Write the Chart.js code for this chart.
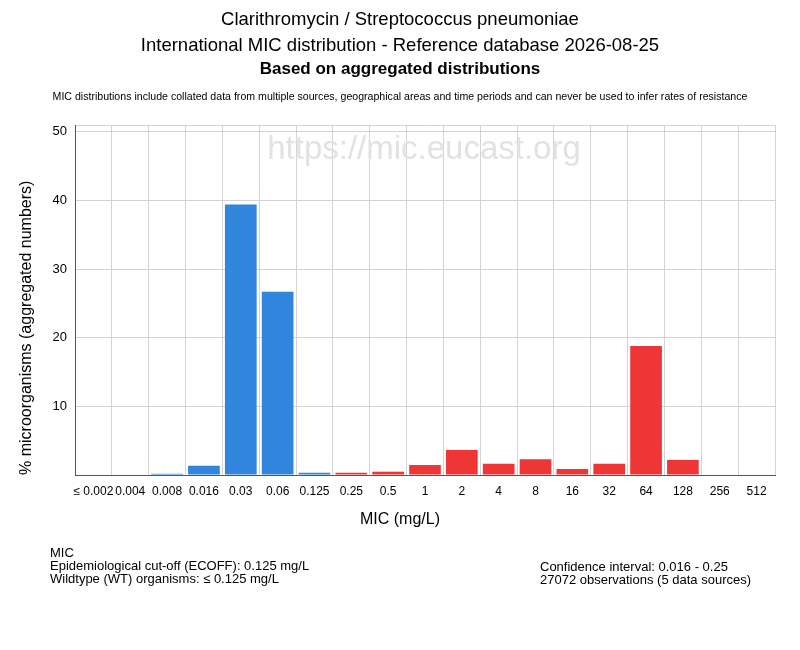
<!doctype html>
<html>
<head>
  <meta charset="utf-8">
  <title>Clarithromycin / Streptococcus pneumoniae - MIC distribution</title>
  <script src="https://cdn.jsdelivr.net/npm/chart.js"></script>
  <style>
    body { margin: 0; background: #fff; font-family: "Liberation Sans", Arial, sans-serif; color: #000; }
    #wrap { position: relative; width: 800px; height: 650px; }
    canvas { position: absolute; left: 0; top: 0; }
    .t { position: absolute; left: 0; width: 800px; text-align: center; white-space: nowrap; }
    .h { font-size: 18.5px; line-height: 20px; }
    .note { font-size: 10.6px; line-height: 12px; top: 90px; }
    .foot { position: absolute; font-size: 13px; line-height: 13px; white-space: nowrap; }
  </style>
</head>
<body>
<div id="wrap">
  <canvas id="chart" width="800" height="650"></canvas>
  <div class="t h" style="top:9px">Clarithromycin / Streptococcus pneumoniae</div>
  <div class="t h" style="top:35px">International MIC distribution - Reference database 2026-08-25</div>
  <div class="t h" style="top:59px;font-weight:bold;font-size:17px">Based on aggregated distributions</div>
  <div class="t note">MIC distributions include collated data from multiple sources, geographical areas and time periods and can never be used to infer rates of resistance</div>
  <div class="t" style="top:509px;font-size:16px;line-height:20px">MIC (mg/L)</div>
  <div class="foot" style="left:50px;top:546px">MIC<br>Epidemiological cut-off (ECOFF): 0.125 mg/L<br>Wildtype (WT) organisms: ≤ 0.125 mg/L</div>
  <div class="foot" style="left:540px;top:560px">Confidence interval: 0.016 - 0.25<br>27072 observations (5 data sources)</div>
</div>
<script>
  // MIC classes (mg/L) and % of isolates in each
  const micLabels = ['≤ 0.002', '0.004', '0.008', '0.016', '0.03', '0.06', '0.125', '0.25', '0.5',
                     '1', '2', '4', '8', '16', '32', '64', '128', '256', '512'];
  const percents = [0, 0, 0.18, 1.35, 39.4, 26.7, 0.33, 0.33, 0.48,
                    1.45, 3.65, 1.65, 2.3, 0.87, 1.65, 18.8, 2.2, 0, 0];
  const yTicks = [0, 10, 20, 30, 40, 50, 51];
  const ecoffIndex = 6; // 0.125 mg/L

  const barColors = percents.map((v, i) => i <= ecoffIndex ? '#3185dc' : '#ee3636');

  const watermark = {
    id: 'watermark',
    beforeDatasetsDraw(chart) {
      const ctx = chart.ctx;
      ctx.save();
      ctx.font = '33px "Liberation Sans", Arial, sans-serif';
      ctx.fillStyle = '#e2e2e2';
      ctx.textAlign = 'center';
      ctx.textBaseline = 'middle';
      ctx.fillText('https://mic.eucast.org', 424, 150);
      ctx.restore();
    }
  };

  new Chart(document.getElementById('chart'), {
    type: 'bar',
    data: {
      labels: micLabels,
      datasets: [{ data: percents, backgroundColor: barColors, barPercentage: 0.86, categoryPercentage: 1 }]
    },
    plugins: [watermark],
    options: {
      responsive: false,
      animation: false,
      layout: { padding: { top: 125, right: 25, bottom: 120, left: 0 } },
      plugins: { legend: { display: false }, tooltip: { enabled: false } },
      scales: {
        x: {
          grid: { color: '#d3d3d3', drawTicks: false },
          border: { color: '#555' },
          ticks: { color: '#000', font: { size: 12, family: '"Liberation Sans", Arial' }, padding: 9, maxRotation: 0, autoSkip: false },
          afterFit(s) { s.height = 55; }
        },
        y: {
          min: 0, max: 51,
          afterBuildTicks(s) { s.ticks = yTicks.map(v => ({ value: v })); },
          grid: { color: '#d3d3d3', drawTicks: false },
          border: { color: '#555' },
          ticks: {
            color: '#000', font: { size: 13, family: '"Liberation Sans", Arial' }, padding: 8,
            callback: v => (v === 0 || v === 51) ? '' : v
          },
          title: {
            display: true, align: 'start', text: '% microorganisms (aggregated numbers)', color: '#000',
            font: { size: 16, family: '"Liberation Sans", Arial' }, padding: { top: 17, bottom: 0 }
          },
          afterFit(s) { s.width = 75; }
        }
      }
    }
  });
</script>
</body>
</html>
